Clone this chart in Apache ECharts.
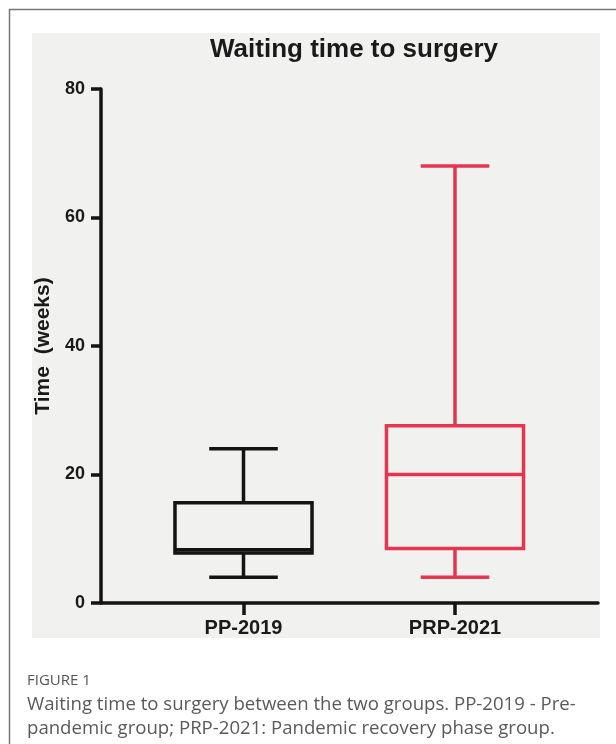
<!DOCTYPE html>
<html>
<head>
<meta charset="utf-8">
<script src="https://cdn.jsdelivr.net/npm/echarts@6/dist/echarts.min.js"></script>
<style>
html,body{margin:0;padding:0;background:#fff;}
#chart{width:616px;height:744px;}
</style>
</head>
<body>
<div id="chart"></div>
<script>
// ---- data ----
const categories = ['PP-2019', 'PRP-2021'];
const mins = [4, 4];
const q1s = [7.8, 8.5];
const medians = [8.3, 20];
const q3s = [15.6, 27.6];
const maxs = [24, 68];
const yTicks = [0, 20, 40, 60, 80];
const seriesColors = ['#161313', '#e5354f'];
const title = 'Waiting time to surgery';
const yName = 'Time  (weeks)';
const captionHead = 'FIGURE 1';
const captionLines = [
  'Waiting time to surgery between the two groups. PP-2019 - Pre-',
  'pandemic group; PRP-2021: Pandemic recovery phase group.'
];

const boxData = categories.map((c, i) => [i, mins[i], q1s[i], medians[i], q3s[i], maxs[i]]);

const chart = echarts.init(document.getElementById('chart'), null, {renderer: 'canvas'});
const LW = 3.5;

function renderBox(params, api) {
  const i = api.value(0);
  const color = seriesColors[params.dataIndex];
  const pMin = api.coord([i, api.value(1)]);
  const pQ1 = api.coord([i, api.value(2)]);
  const pMed = api.coord([i, api.value(3)]);
  const pQ3 = api.coord([i, api.value(4)]);
  const pMax = api.coord([i, api.value(5)]);
  const band = api.size([1, 0])[0];
  const bw = band * 0.648;
  const cw = bw * 0.5;
  const cx = pMed[0];
  const st = {stroke: color, lineWidth: LW, fill: null};
  return {
    type: 'group',
    children: [
      {type: 'line', shape: {x1: cx, y1: pQ3[1], x2: cx, y2: pMax[1]}, style: st},
      {type: 'line', shape: {x1: cx, y1: pQ1[1], x2: cx, y2: pMin[1]}, style: st},
      {type: 'line', shape: {x1: cx - cw / 2, y1: pMax[1], x2: cx + cw / 2, y2: pMax[1]}, style: st},
      {type: 'line', shape: {x1: cx - cw / 2, y1: pMin[1], x2: cx + cw / 2, y2: pMin[1]}, style: st},
      {type: 'rect', shape: {x: cx - bw / 2, y: pQ3[1], width: bw, height: pQ1[1] - pQ3[1]}, style: {stroke: color, lineWidth: LW, fill: 'none'}},
      {type: 'line', shape: {x1: cx - bw / 2, y1: pMed[1], x2: cx + bw / 2, y2: pMed[1]}, style: st}
    ]
  };
}

const option = {
  animation: false,
  backgroundColor: '#ffffff',
  title: {
    text: title,
    left: 349,
    top: 32,
    textAlign: 'center',
    textStyle: {fontFamily: 'Liberation Sans, Arial, sans-serif', fontWeight: 'bold', fontSize: 26, color: '#1a1a1a'}
  },
  graphic: [
    {type: 'rect', z: -10, shape: {x: 32, y: 33, width: 568, height: 605}, style: {fill: '#f1f1ef'}},
    {type: 'polyline', z: -5, shape: {points: [[9.5, 744], [9.5, 9.5], [616, 9.5]]}, style: {stroke: '#777777', lineWidth: 1.5, fill: null}},
    {type: 'text', style: {text: captionHead, x: 27, y: 681, fontFamily: 'Open Sans, sans-serif', fontSize: 15, fill: '#555555', verticalAlign: 'middle'}},
    {type: 'text', style: {text: captionLines[0], x: 27, y: 705, fontFamily: 'Open Sans, sans-serif', fontSize: 18.6, fill: '#5a5a5a', verticalAlign: 'middle'}},
    {type: 'text', style: {text: captionLines[1], x: 27, y: 729, fontFamily: 'Open Sans, sans-serif', fontSize: 18.6, fill: '#5a5a5a', verticalAlign: 'middle'}}
  ],
  grid: [
    {left: 101, right: 18, top: 89, bottom: 141},
    {left: 137.75, right: 55.25, top: 89, bottom: 141}
  ],
  xAxis: [
    {
      gridIndex: 0, type: 'value', min: 0, max: 1,
      axisLine: {show: true, onZero: false, lineStyle: {color: '#161313', width: LW}},
      axisTick: {show: false}, axisLabel: {show: false}, splitLine: {show: false}
    },
    {
      gridIndex: 1, type: 'category', data: categories, boundaryGap: true,
      axisLine: {show: false},
      axisTick: {show: true, alignWithLabel: true, length: 12, lineStyle: {color: '#161313', width: LW}},
      axisLabel: {margin: 15, fontFamily: 'Liberation Sans, Arial, sans-serif', fontWeight: 'bold', fontSize: 20, color: '#1a1a1a'},
      splitLine: {show: false}
    }
  ],
  yAxis: [
    {
      gridIndex: 0, type: 'value', min: yTicks[0], max: yTicks[yTicks.length - 1], interval: 20,
      name: yName, nameLocation: 'middle', nameGap: 46,
      nameTextStyle: {fontFamily: 'Liberation Sans, Arial, sans-serif', fontWeight: 'bold', fontSize: 21, color: '#1a1a1a'},
      axisLine: {show: true, onZero: false, lineStyle: {color: '#161313', width: LW}},
      axisTick: {show: true, length: 10, lineStyle: {color: '#161313', width: LW}},
      axisLabel: {margin: 16, fontFamily: 'Liberation Sans, Arial, sans-serif', fontWeight: 'bold', fontSize: 18, color: '#1a1a1a'},
      splitLine: {show: false}
    },
    {
      gridIndex: 1, type: 'value', min: yTicks[0], max: yTicks[yTicks.length - 1], interval: 20,
      show: false
    }
  ],
  series: [
    {
      type: 'custom',
      xAxisIndex: 1, yAxisIndex: 1,
      renderItem: renderBox,
      encode: {x: 0, y: [1, 2, 3, 4, 5]},
      data: boxData,
      clip: false
    }
  ]
};
chart.setOption(option);
</script>
</body>
</html>
